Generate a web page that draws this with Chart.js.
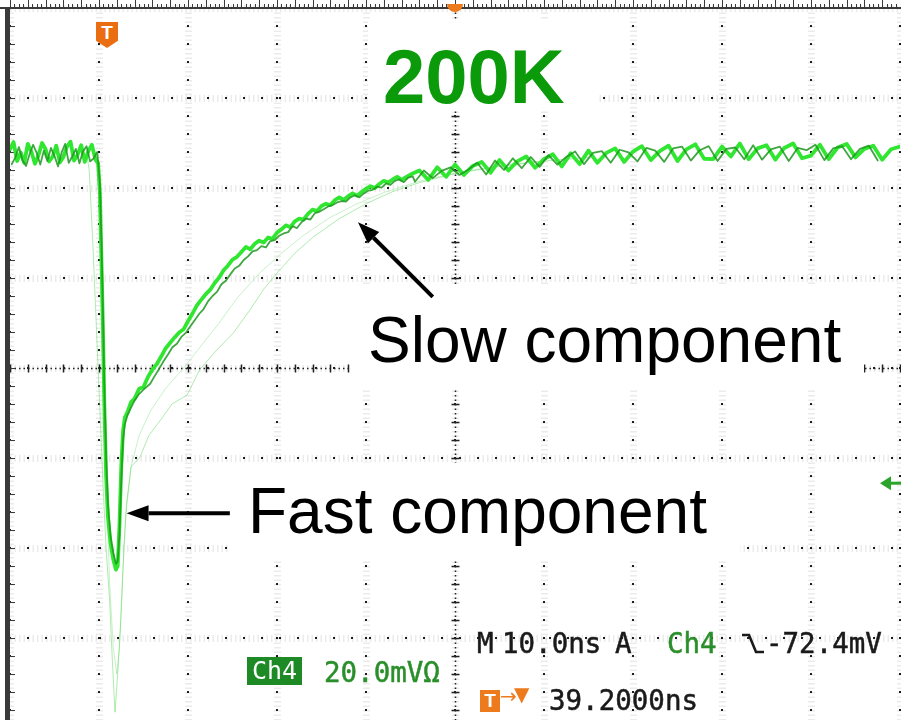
<!DOCTYPE html>
<html>
<head>
<meta charset="utf-8">
<script src="https://cdn.jsdelivr.net/npm/chart.js@4.4.0/dist/chart.umd.min.js"></script>
<style>
  body { margin: 0; background: #fff; }
  #wrap { position: relative; width: 901px; height: 720px; overflow: hidden; }
  #scope { position: absolute; left: 0; top: 0; }
  .lbl { position: absolute; white-space: nowrap; line-height: 1; }
  .note { font-family: "Liberation Sans", Arial, sans-serif; font-size: 64px; color: #000; }
  .temp { font-family: "Liberation Sans", Arial, sans-serif; font-weight: bold; font-size: 76px; color: #0a9a0a; }
  .ro { font-family: "DejaVu Sans Mono", monospace; font-size: 27.5px; color: #1a1a1a; -webkit-text-stroke: 0.5px #1a1a1a; }
  .grn { color: #2a8f2a; -webkit-text-stroke: 0.5px #2a8f2a; }
  .chbox { position: absolute; left: 247px; top: 657px; width: 55px; height: 28px; background: #1e8a26;
           color: #fff; font-family: "DejaVu Sans Mono", monospace; font-size: 25px; line-height: 28px; text-align: center; }
  .tmark { position: absolute; left: 96px; top: 22px; width: 22px; height: 26px; background: #ea6d12;
           clip-path: polygon(0 0, 100% 0, 100% 72%, 50% 100%, 0 72%);
           color: #fff; font: bold 19px "Liberation Sans", Arial, sans-serif; text-align: center; line-height: 22px; }
  .tbox { position: absolute; left: 480px; top: 690px; width: 20px; height: 22px; background: #ee7a1e; color: #fff; text-align: center;
          font: bold 19px "Liberation Sans", Arial, sans-serif; line-height: 22px; }
  .orng { position: absolute; top: 686px; color: #ee7a1e; font-family: "DejaVu Sans", sans-serif; font-size: 20px; line-height: 1; }
</style>
</head>
<body>
<div id="wrap">
  <canvas id="scope" width="901" height="720"></canvas>
  <div class="tmark">T</div>
  <div class="lbl temp" style="left:383px; top:39px;">200K</div>
  <div class="lbl note" style="left:368px; top:308px;">Slow component</div>
  <div class="lbl note" style="left:248px; top:479px;">Fast component</div>
  <div class="lbl ro" style="left:477px; top:630px;">M</div>
  <div class="lbl ro" style="left:502px; top:630px;">10.0ns</div>
  <div class="lbl ro" style="left:615px; top:630px;">A</div>
  <div class="lbl ro grn" style="left:667px; top:630px;">Ch4</div>
  <svg style="position:absolute; left:741px; top:632px;" width="24" height="24" viewBox="0 0 24 24">
    <path d="M1 3 H8 L15 20 H23" fill="none" stroke="#1a1a1a" stroke-width="2.6"/>
  </svg>
  <div class="lbl ro" style="left:766px; top:630px;">-72.4mV</div>
  <div class="chbox">Ch4</div>
  <div class="lbl ro grn" style="left:324px; top:659px;">20.0mV&#x3A9;</div>
  <div class="tbox">T</div>
  <div class="orng" style="left:500px;">&#x2192;</div>
  <div class="orng" style="left:514px; top:684px;">&#x25BC;</div>
  <div class="lbl ro" style="left:549px; top:687px;">39.2000ns</div>
</div>
<script>
// graticule: 10 ns/div horizontally, 20 mV/div vertically
const divNs = [0, 10, 20, 30, 40, 50, 60, 70, 80, 90, 100];
const divMv = [80, 60, 40, 20, 0, -20, -40, -60];
const minorNs = [0,2,4,6,8,10,12,14,16,18,20,22,24,26,28,30,32,34,36,38,40,42,44,46,48,50,
                 52,54,56,58,60,62,64,66,68,70,72,74,76,78,80,82,84,86,88,90,92,94,96,98,100];
const minorMv = [80,76,72,68,64,60,56,52,48,44,40,36,32,28,24,20,16,12,8,4,0,
                 -4,-8,-12,-16,-20,-24,-28,-32,-36,-40,-44,-48,-52,-56,-60,-64,-68,-72,-76];

// main (brightest) sweep
const mainNs = [0,0.4,0.8,1.2,1.6,2,2.4,2.8,3.2,3.6,4,4.4,4.8,5.2,5.6,6,6.4,6.8,7.2,7.6,8,8.4,8.8,9.2,9.6,
  9.9,10.1,10.3,10.45,10.6,10.8,11,11.3,11.6,11.9,12.1,12.3,12.5,12.7,12.9,13.2,13.6,14,14.5,15,
  15.5,16,16.5,17,17.5,18,18.5,19,19.5,20,20.5,21,21.5,22,22.5,23,23.5,24,24.5,25,25.5,26,26.5,27,27.5,28,28.5,29,29.5,30,
  30.5,31,31.5,32,32.5,33,33.5,34,34.5,35,35.5,36,36.5,37,37.5,38,38.5,39,39.5,40,40.5,41,41.5,42,42.5,43,43.5,44,44.5,45,
  46,47,48,49,50,51,52,53,54,55,56,57,58,59,60,61,62,63,64,65,66,67,68,69,70,71,72,73,
  74,75,76,77,78,79,80,81,82,83,84,85,86,87,88,89,90,91,92,93,94,95,96,97,98,99,100];
const mainMv = [48.6,50.2,46.0,47.9,45.6,49.8,48.1,45.4,47.3,50.0,48.6,45.9,47.0,49.4,45.7,46.9,49.2,50.3,46.1,47.4,49.5,45.8,48.2,49.6,46.3,
  45.5,39,22,8,-8,-24,-33,-39,-42.5,-44.8,-44,-35,-22,-14,-11,-9.8,-7.6,-6.8,-4.6,-4.2,
  -2.0,-0.3,0.9,2.6,4.4,5.6,6.8,7.9,8.6,10.4,12.1,13.9,15.2,16.4,17.4,18.9,20.1,21.7,22.8,24.1,24.7,25.8,26.9,26.4,27.6,28.3,27.9,29.0,28.7,30.1,
  30.8,31.7,31.3,32.6,33.2,33.0,34.3,35.2,34.9,36.0,36.5,36.2,37.3,37.9,37.4,38.2,38.8,38.3,39.1,39.8,40.4,40.0,40.9,41.6,41.2,41.9,42.5,41.8,42.4,43.0,
  43.9,41.8,44.6,42.5,45.2,42.9,44.9,45.8,43.4,46.2,43.9,45.9,47.0,44.5,46.4,47.5,44.8,47.7,45.3,48.3,45.6,47.8,48.8,45.8,48.1,49.3,46.2,48.2,
  49.4,46.0,48.6,49.7,46.5,46.4,49.2,47.0,49.9,46.4,48.8,49.5,46.3,48.9,49.9,46.6,47.2,49.6,46.4,49.0,49.8,46.8,48.7,49.4,46.3,48.6,49.2];
// second persistence sweep, sampled between the main samples
const secondNs = [0.2,0.6,1,1.4,1.8,2.2,2.6,3,3.4,3.8,4.2,4.6,5,5.4,5.8,6.2,6.6,7,7.4,7.8,8.2,8.6,9,9.4,9.8,
  9.9,10.1,10.3,10.45,10.6,10.8,11,11.3,11.6,11.9,12.1,12.3,12.5,12.7,12.9,13.2,13.6,14,14.5,15,
  15.75,16.25,16.75,17.25,17.75,18.25,18.75,19.25,19.75,20.25,20.75,21.25,21.75,22.25,22.75,23.25,23.75,24.25,24.75,25.25,
  25.75,26.25,26.75,27.25,27.75,28.25,28.75,29.25,29.75,30.25,30.75,31.25,31.75,32.25,32.75,33.25,33.75,34.25,34.75,35.25,
  35.75,36.25,36.75,37.25,37.75,38.25,38.75,39.25,39.75,40.25,40.75,41.25,41.75,42.25,42.75,43.25,43.75,44.25,44.75,45.25,
  45.5,46.5,47.5,48.5,49.5,50.5,51.5,52.5,53.5,54.5,55.5,56.5,57.5,58.5,59.5,60.5,61.5,62.5,63.5,64.5,65.5,66.5,67.5,68.5,69.5,70.5,71.5,72.5,
  73.5,74.5,75.5,76.5,77.5,78.5,79.5,80.5,81.5,82.5,83.5,84.5,85.5,86.5,87.5,88.5,89.5,90.5,91.5,92.5,93.5,94.5,95.5,96.5,97.5,98.5,99.5];
const secondMv = [45.3,46.8,49.1,46.2,44.9,47.5,49.6,47.8,45.2,48.3,46.0,48.9,47.1,44.8,47.9,49.8,45.6,47.0,48.7,45.5,48.1,49.3,45.9,46.6,48.0,
  46.0,41,26,12,-4,-20,-30,-37.5,-41,-43.5,-43,-37,-25,-16,-12.5,-10.5,-8.8,-7.2,-5.8,-4.8,
  -3.5,-1.8,-0.2,1.5,3.0,4.6,5.4,6.9,7.8,9.2,10.6,12.0,13.1,14.8,16.0,16.9,18.6,19.4,20.8,22.1,22.7,24.0,24.8,25.9,26.2,27.1,26.8,28.2,28.4,29.4,
  29.9,30.2,31.5,31.1,32.4,33.2,33.0,34.4,34.7,35.3,35.9,36.2,36.8,37.1,37.0,37.9,38.4,37.9,38.8,39.4,39.6,40.3,40.1,41.0,40.7,41.6,41.9,41.3,42.3,42.6,
  41.4,43.9,42.2,43.8,44.6,42.9,44.1,45.6,43.0,46.1,44.0,46.6,44.4,46.9,44.7,47.3,45.2,46.9,48.1,45.3,47.8,48.2,45.6,48.5,47.9,45.9,48.9,48.3,
  45.8,48.8,49.2,46.1,48.4,49.3,46.0,48.7,49.0,46.4,49.5,46.3,48.6,49.2,46.0,48.9,48.4,49.6,46.2,48.8,49.3,46.4,48.7,49.4,46.1];
// faint sweeps that dip deeper and recover slower
const faintANs = [8.7,8.9,9.1,9.3,9.6,9.9,10.2,10.5,10.8,11.2,11.5,11.8,12.1,12.4,12.6,12.8,13.1,13.6,14.6,15.6,
  16.9,18.2,19.9,21.3,23,25.1,27,28.5,30,32,34,37,40,43,46,50,55,60,65];
const faintAMv = [46.5,44,36,28,14,0,-14,-28,-40,-52,-65,-76.5,-68,-58,-50,-40,-30,-22,-19.8,-15,
  -11.6,-8,-6,-0.4,3.5,7.8,13,17.5,21.1,25.5,29,33.2,36.5,39.2,41.2,43.2,44.8,46,46.8];
const faintBNs = [9.8,10.1,10.4,10.8,11.2,11.6,12,12.3,12.6,13,13.6,14.5,15.8,17.5,19.5,21.5,23.5,25.5,28,30.5,33,36,39,42,46,50,55,60];
const faintBMv = [47,30,5,-25,-48,-62,-68,-62,-48,-33,-22,-15,-9.5,-4.5,0,5,10,15.5,21,25.5,29.5,33.5,36.5,39,41.5,43.3,45,46];

const triggerLevelMv = -25.6;

function pts(xs, ys) {
  return xs.map((t, i) => ({ x: t, y: ys[i] }));
}

function traceSet(data, color, width) {
  return { data: data, borderColor: color, borderWidth: width, pointRadius: 0, tension: 0,
           borderJoinStyle: 'round', borderCapStyle: 'round', fill: false };
}

// white frames behind the text boxes (pixels, they cover the graticule like in the slide)
const textFrames = [
  [368, 20, 230, 90],
  [350, 286, 514, 102],
  [228, 463, 512, 97]
];

function arrow(ctx, x1, y1, x2, y2) {
  const ang = Math.atan2(y2 - y1, x2 - x1);
  const head = 22, half = 8;
  const bx = x2 - head * Math.cos(ang), by = y2 - head * Math.sin(ang);
  ctx.beginPath();
  ctx.moveTo(x1, y1);
  ctx.lineTo(bx, by);
  ctx.stroke();
  ctx.beginPath();
  ctx.moveTo(x2, y2);
  ctx.lineTo(bx + half * Math.sin(ang), by - half * Math.cos(ang));
  ctx.lineTo(bx - half * Math.sin(ang), by + half * Math.cos(ang));
  ctx.closePath();
  ctx.fill();
}

const scopeDecor = {
  id: 'scopeDecor',
  beforeDraw(chart) {
    const ctx = chart.ctx;
    ctx.save();
    ctx.fillStyle = '#fff';
    ctx.fillRect(0, 0, chart.width, chart.height);
    ctx.restore();
  },
  beforeDatasetsDraw(chart) {
    const { ctx, chartArea: a, scales: { x, y } } = chart;
    const cx = Math.round(x.getPixelForValue(50)) + 0.5;
    const cy = Math.round(y.getPixelForValue(0)) + 0.5;
    ctx.save();
    // centre cross: dense dots + minor ticks
    ctx.strokeStyle = '#222';
    ctx.lineWidth = 1.5;
    ctx.setLineDash([1.5, 3]);
    ctx.beginPath();
    ctx.moveTo(a.left, cy); ctx.lineTo(a.right, cy);
    ctx.moveTo(cx, a.top); ctx.lineTo(cx, a.bottom);
    ctx.stroke();
    ctx.setLineDash([]);
    ctx.beginPath();
    minorNs.forEach(v => {
      const px = Math.round(x.getPixelForValue(v)) + 0.5;
      ctx.moveTo(px, cy - 4); ctx.lineTo(px, cy + 4);
    });
    minorMv.forEach(v => {
      const py = Math.round(y.getPixelForValue(v)) + 0.5;
      ctx.moveTo(cx - 4, py); ctx.lineTo(cx + 4, py);
    });
    ctx.stroke();
    // white frames of the text boxes
    ctx.fillStyle = '#fff';
    textFrames.forEach(f => ctx.fillRect(f[0], f[1], f[2], f[3]));
    // top and left bezel rulers
    ctx.fillStyle = '#3a3a3a';
    ctx.fillRect(0, a.top - 1, chart.width, 2);
    ctx.fillRect(a.left - 5, a.top - 1, 5, a.bottom - a.top + 1);
    ctx.strokeStyle = '#3a3a3a';
    ctx.lineWidth = 1;
    ctx.beginPath();
    for (let i = 0; i < minorNs.length - 1; i++) {
      const p0 = x.getPixelForValue(minorNs[i]);
      const step = (x.getPixelForValue(minorNs[i + 1]) - p0) / 4;
      for (let k = 0; k < 4; k++) {
        const px = Math.round(p0 + k * step) + 0.5;
        ctx.moveTo(px, a.top - 1); ctx.lineTo(px, a.top - (k === 0 ? 8 : 4));
      }
    }
    minorMv.forEach(v => {
      const py = Math.round(y.getPixelForValue(v)) + 0.5;
      ctx.moveTo(a.left, py); ctx.lineTo(a.left + 5, py);
    });
    ctx.stroke();
    ctx.restore();
  },
  afterDatasetsDraw(chart) {
    const { ctx, scales: { x, y } } = chart;
    ctx.save();
    // annotation arrows
    ctx.strokeStyle = '#000';
    ctx.fillStyle = '#000';
    ctx.lineWidth = 4;
    arrow(ctx, x.getPixelForValue(47.5), y.getPixelForValue(15.8), x.getPixelForValue(39.1), y.getPixelForValue(32.4));
    arrow(ctx, x.getPixelForValue(24.7), y.getPixelForValue(-32.3), x.getPixelForValue(13.1), y.getPixelForValue(-32.3));
    // trigger level marker on the right edge
    const ty = y.getPixelForValue(triggerLevelMv);
    ctx.fillStyle = '#2aa52a';
    ctx.strokeStyle = '#2aa52a';
    ctx.lineWidth = 3;
    ctx.beginPath();
    ctx.moveTo(880, ty); ctx.lineTo(891, ty - 7); ctx.lineTo(891, ty + 7); ctx.closePath(); ctx.fill();
    ctx.beginPath(); ctx.moveTo(889, ty); ctx.lineTo(901, ty); ctx.stroke();
    // horizontal position marker at top centre
    ctx.fillStyle = '#ee7a1e';
    ctx.beginPath();
    ctx.arc(x.getPixelForValue(50), 4, 8, 0, Math.PI);
    ctx.fill();
    ctx.restore();
  }
};

function hiddenSize(s) {
  if (s.isHorizontal()) s.height = 0; else s.width = 0;
}

new Chart(document.getElementById('scope'), {
  type: 'line',
  data: {
    datasets: [
      traceSet(pts(secondNs, secondMv), 'rgba(30,150,32,0.85)', 1.8),
      traceSet(pts(mainNs, mainMv), '#30e630', 3.8),
      traceSet(pts(faintANs, faintAMv), 'rgba(80,210,80,0.45)', 1),
      traceSet(pts(faintBNs, faintBMv), 'rgba(120,220,120,0.4)', 1)
    ]
  },
  options: {
    responsive: false,
    animation: false,
    devicePixelRatio: 1,
    layout: { padding: { left: 10, top: 8, right: 1, bottom: 0 } },
    plugins: { legend: { display: false }, tooltip: { enabled: false } },
    scales: {
      x: {
        type: 'linear', min: 0, max: 100,
        afterBuildTicks: s => { s.ticks = divNs.map(v => ({ value: v })); },
        afterFit: hiddenSize,
        ticks: { display: false },
        grid: { color: '#1e1e1e', lineWidth: 2, drawTicks: false },
        border: { display: false, dash: [2, 16], dashOffset: 1 }
      },
      y: {
        type: 'linear', min: -78.22, max: 80,
        afterBuildTicks: s => { s.ticks = divMv.map(v => ({ value: v })); },
        afterFit: hiddenSize,
        ticks: { display: false },
        grid: { color: '#1e1e1e', lineWidth: 2, drawTicks: false },
        border: { display: false, dash: [2, 16], dashOffset: 1 }
      },
      xg: {
        type: 'linear', min: 0, max: 100, position: 'bottom', z: -1,
        afterBuildTicks: s => { s.ticks = divNs.map(v => ({ value: v })); },
        afterFit: hiddenSize,
        ticks: { display: false },
        grid: { color: 'rgba(0,0,0,0.08)', lineWidth: 7, drawTicks: false },
        border: { display: false, dash: [1.5, 3] }
      },
      yg: {
        type: 'linear', min: -78.22, max: 80, position: 'left', z: -1,
        afterBuildTicks: s => { s.ticks = divMv.map(v => ({ value: v })); },
        afterFit: hiddenSize,
        ticks: { display: false },
        grid: { color: 'rgba(0,0,0,0.08)', lineWidth: 7, drawTicks: false },
        border: { display: false, dash: [1.5, 3] }
      }
    }
  },
  plugins: [scopeDecor]
});
</script>
</body>
</html>
